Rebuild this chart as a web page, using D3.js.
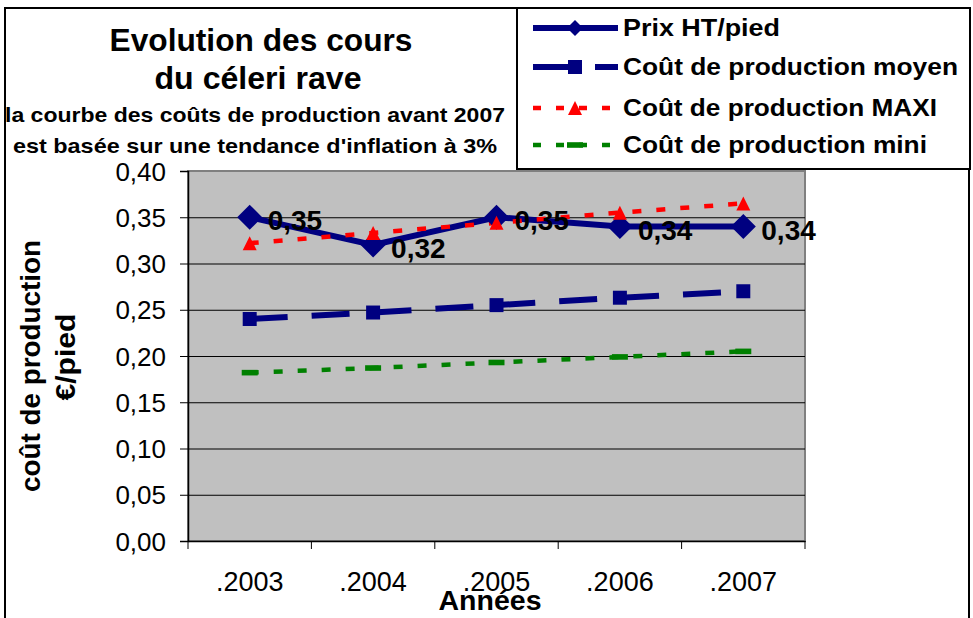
<!DOCTYPE html>
<meta charset="utf-8">
<style>
body { margin: 0; background: #fff; }
text { font-family: "Liberation Sans", Arial, sans-serif; }
</style>
<body>
<script src="https://d3js.org/d3.v7.min.js"></script>
<script>

// data
var years = ["2003", "2004", "2005", "2006", "2007"];
var yearLabels = [".2003", ".2004", ".2005", ".2006", ".2007"];
var prix = [0.35, 0.32, 0.35, 0.34, 0.34];
var coutMoyen = [0.240, 0.247, 0.255, 0.263, 0.270];
var coutMaxi = [0.322, 0.333, 0.344, 0.355, 0.365];
var coutMini = [0.182, 0.187, 0.193, 0.199, 0.205];
var yTicks = [0, 0.05, 0.10, 0.15, 0.20, 0.25, 0.30, 0.35, 0.40];
var seriesNames = ["Prix HT/pied", "Coût de production moyen", "Coût de production MAXI", "Coût de production mini"];

var W = 973, H = 618;
var plot = {left: 188, top: 171, right: 805, bottom: 541};

var svg = d3.select("body").append("svg")
    .attr("width", W)
    .attr("height", H);

// outer frame
svg.append("rect")
    .attr("x", 5).attr("y", 8)
    .attr("width", 964).attr("height", 640)
    .attr("fill", "#fff").attr("stroke", "#000").attr("stroke-width", 2);

// scales
var x = d3.scaleBand().domain(years).range([plot.left, plot.right]).padding(0);
var y = d3.scaleLinear().domain([0, 0.40]).range([plot.bottom, plot.top]);
var cx = function(d, i) { return x(years[i]) + x.bandwidth() / 2; };

// plot area
svg.append("rect")
    .attr("x", plot.left).attr("y", plot.top)
    .attr("width", plot.right - plot.left).attr("height", plot.bottom - plot.top)
    .attr("fill", "#C0C0C0").attr("stroke", "#808080").attr("stroke-width", 2);

// gridlines
svg.append("g")
    .attr("transform", "translate(" + plot.left + ",0)")
    .call(d3.axisLeft(y).tickValues(yTicks.slice(1, -1)).tickSize(-(plot.right - plot.left)).tickFormat(""))
    .call(function(g) { g.select(".domain").remove(); })
    .selectAll("line").attr("stroke", "#000").attr("stroke-width", 1);

// y axis
var yAxis = svg.append("g")
    .attr("transform", "translate(" + plot.left + ",0)")
    .call(d3.axisLeft(y).tickValues(yTicks).tickSize(8).tickPadding(14)
      .tickFormat(function(d) { return d.toFixed(2).replace(".", ","); }));
yAxis.select(".domain").attr("stroke", "#000").attr("stroke-width", 1.5);
yAxis.selectAll("line").attr("stroke", "#000");
yAxis.selectAll("text")
    .attr("font-size", 26).attr("fill", "#000").attr("dy", "0.35em");

// x axis (labels centred, ticks between categories)
var xAxis = svg.append("g")
    .attr("transform", "translate(0," + plot.bottom + ")")
    .call(d3.axisBottom(x).tickSize(0).tickFormat(function(d, i) { return yearLabels[i]; }));
xAxis.select(".domain").attr("stroke", "#000").attr("stroke-width", 1.5);
xAxis.selectAll("text")
    .attr("font-size", 27).attr("fill", "#000")
    .attr("y", 50).attr("dy", null);
xAxis.selectAll(".sep")
    .data(years.concat(["end"]))
  .enter().append("line")
    .attr("class", "sep")
    .attr("x1", function(d) { return d === "end" ? plot.right : x(d); })
    .attr("x2", function(d) { return d === "end" ? plot.right : x(d); })
    .attr("y1", 0).attr("y2", 8)
    .attr("stroke", "#000").attr("stroke-width", 1);

var line = d3.line()
    .x(cx)
    .y(function(d) { return y(d); });

// series lines
svg.append("path").datum(coutMini)
    .attr("d", line).attr("fill", "none")
    .attr("stroke", "#008000").attr("stroke-width", 4.5).attr("stroke-dasharray", "9,15");

svg.append("path").datum(coutMoyen)
    .attr("d", line).attr("fill", "none")
    .attr("stroke", "#000080").attr("stroke-width", 6).attr("stroke-dasharray", "38,24");

svg.append("path").datum(prix)
    .attr("d", line).attr("fill", "none")
    .attr("stroke", "#000080").attr("stroke-width", 6);

svg.append("path").datum(coutMaxi)
    .attr("d", line).attr("fill", "none")
    .attr("stroke", "#FF0000").attr("stroke-width", 4.5).attr("stroke-dasharray", "9,15");

// markers
function diamond(s) { return "M0," + (-s) + "L" + s + ",0L0," + s + "L" + (-s) + ",0Z"; }
function square(s) { return "M" + (-s) + "," + (-s) + "h" + (2 * s) + "v" + (2 * s) + "h" + (-2 * s) + "Z"; }
function triangle(s) { return "M0," + (-s) + "L" + (s) + "," + s + "L" + (-s) + "," + s + "Z"; }
function bar(w, h) { return "M" + (-w) + "," + (-h) + "h" + (2 * w) + "v" + (2 * h) + "h" + (-2 * w) + "Z"; }

svg.selectAll(".mMini").data(coutMini).enter().append("path")
    .attr("transform", function(d, i) { return "translate(" + cx(d, i) + "," + y(d) + ")"; })
    .attr("d", bar(8, 2.8)).attr("fill", "#008000");

svg.selectAll(".mMoy").data(coutMoyen).enter().append("path")
    .attr("transform", function(d, i) { return "translate(" + cx(d, i) + "," + y(d) + ")"; })
    .attr("d", square(7)).attr("fill", "#000080");

svg.selectAll(".mPrix").data(prix).enter().append("path")
    .attr("transform", function(d, i) { return "translate(" + cx(d, i) + "," + y(d) + ")"; })
    .attr("d", diamond(12.5)).attr("fill", "#000080");

svg.selectAll(".mMaxi").data(coutMaxi).enter().append("path")
    .attr("transform", function(d, i) { return "translate(" + cx(d, i) + "," + y(d) + ")"; })
    .attr("d", triangle(7)).attr("fill", "#FF0000");

// data labels
svg.selectAll(".lbl").data(prix).enter().append("text")
    .attr("x", function(d, i) { return cx(d, i) + 18; })
    .attr("y", function(d) { return y(d) + 13; })
    .attr("font-size", 28).attr("font-weight", "bold").attr("fill", "#000")
    .text(function(d) { return d.toFixed(2).replace(".", ","); });

// titles
function label(t, xx, yy, size, len, bold) {
  return svg.append("text")
      .attr("x", xx).attr("y", yy)
      .attr("text-anchor", "middle")
      .attr("font-size", size)
      .attr("font-weight", bold ? "bold" : "normal")
      .attr("textLength", len).attr("lengthAdjust", "spacingAndGlyphs")
      .attr("fill", "#000")
      .text(t);
}
label("Evolution des cours", 261, 51, 31, 303, true);
label("du céleri rave", 258, 89, 31, 207, true);
label("la courbe des coûts de production avant 2007", 255, 122, 21, 500, true);
label("est basée sur une tendance d'inflation à 3%", 255, 153, 21, 484, true);

label("Années", 490, 610, 27, 103, true);

label("coût de production", 0, 0, 27, 252, true)
    .attr("x", null).attr("y", null)
    .attr("transform", "translate(40,366) rotate(-90)");
label("€/pied", 0, 0, 27, 87, true)
    .attr("x", null).attr("y", null)
    .attr("transform", "translate(75,357) rotate(-90)");

// legend
var lg = svg.append("g");
lg.append("rect")
    .attr("x", 517).attr("y", 8).attr("width", 453).attr("height", 161)
    .attr("fill", "#fff").attr("stroke", "#000").attr("stroke-width", 2);

var legRows = [28, 67, 108, 145];
var legLens = [157, 335, 314, 304];
var legStyle = [
  {color: "#000080", w: 6, dash: null, marker: diamond(8)},
  {color: "#000080", w: 6, dash: "38,24", marker: square(7)},
  {color: "#FF0000", w: 4.5, dash: "8,15", marker: triangle(7)},
  {color: "#008000", w: 4.5, dash: "8,15", marker: bar(8, 2.8)}
];
seriesNames.forEach(function(name, i) {
  var st = legStyle[i];
  lg.append("line")
      .attr("x1", 533).attr("x2", 618)
      .attr("y1", legRows[i]).attr("y2", legRows[i])
      .attr("stroke", st.color).attr("stroke-width", st.w)
      .attr("stroke-dasharray", st.dash);
  lg.append("path")
      .attr("transform", "translate(575," + legRows[i] + ")")
      .attr("d", st.marker).attr("fill", st.color);
  lg.append("text")
      .attr("x", 623).attr("y", legRows[i] + 8)
      .attr("font-size", 24).attr("font-weight", "bold")
      .attr("textLength", legLens[i]).attr("lengthAdjust", "spacingAndGlyphs")
      .attr("fill", "#000")
      .text(name);
});

</script>
</body>
